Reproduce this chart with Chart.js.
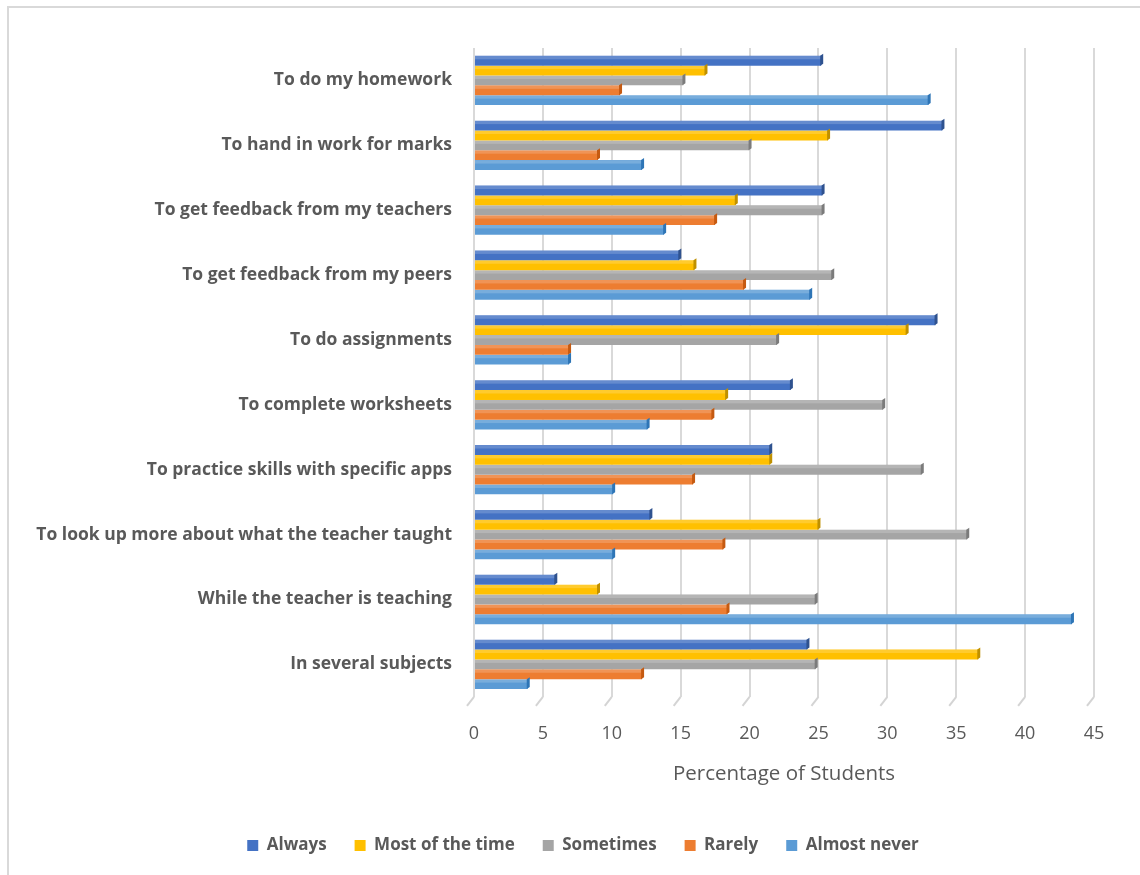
<!DOCTYPE html>
<html>
<head>
<meta charset="utf-8">
<script src="https://cdn.jsdelivr.net/npm/chart.js@4.4.1/dist/chart.umd.min.js"></script>
<style>
  html, body { margin: 0; padding: 0; background: #fff; }
  #wrap { position: relative; width: 1140px; height: 875px; }
  #frame { position: absolute; left: 7px; top: 6px; width: 1140px; height: 900px;
           border-top: 2px solid #d9d9d9; border-left: 2px solid #d9d9d9; box-sizing: border-box; }
  canvas { position: absolute; left: 0; top: 0; }
</style>
</head>
<body>
<div id="wrap">
  <div id="frame"></div>
  <canvas id="chart" width="1140" height="875"></canvas>
</div>
<script>
// categories, top to bottom
let categories = [
	'To do my homework',
	'To hand in work for marks',
	'To get feedback from my teachers',
	'To get feedback from my peers',
	'To do assignments',
	'To complete worksheets',
	'To practice skills with specific apps',
	'To look up more about what the teacher taught',
	'While the teacher is teaching',
	'In several subjects',
]

// percentage of students per answer
let always      = [25.2, 34.0, 25.3, 14.9, 33.5, 23.0, 21.5, 12.8,  5.9, 24.2]
let mostOfTime  = [16.8, 25.7, 19.0, 16.0, 31.4, 18.3, 21.5, 25.0,  9.0, 36.6]
let sometimes   = [15.2, 20.0, 25.3, 26.0, 22.0, 29.7, 32.5, 35.8, 24.8, 24.8]
let rarely      = [10.6,  9.0, 17.5, 19.6,  6.9, 17.3, 15.9, 18.1, 18.4, 12.2]
let almostNever = [33.0, 12.2, 13.8, 24.4,  6.9, 12.6, 10.1, 10.1, 43.4,  3.9]

let xTicks = [0, 5, 10, 15, 20, 25, 30, 35, 40, 45]

let series = [
	{ label: 'Always',           data: always,      color: '#4472C4', edge: '#2f528f' },
	{ label: 'Most of the time', data: mostOfTime,  color: '#FFC000', edge: '#bf9000' },
	{ label: 'Sometimes',        data: sometimes,   color: '#A5A5A5', edge: '#7b7b7b' },
	{ label: 'Rarely',           data: rarely,      color: '#ED7D31', edge: '#c55a11' },
	{ label: 'Almost never',     data: almostNever, color: '#5B9BD5', edge: '#2e75b6' },
]

// fake 3d: darker end caps on bars and little feet under grid lines
const depth3d = {
	id: 'depth3d',
	afterLayout(chart) {
		// legend sits a bit right of centre in the original
		chart.legend.left += 36
		chart.legend.right += 36
	},
	afterDatasetsDraw(chart) {
		const ctx = chart.ctx
		chart.data.datasets.forEach((ds, i) => {
			chart.getDatasetMeta(i).data.forEach(bar => {
				const h = bar.height
				ctx.save()
				ctx.fillStyle = ds.edgeColor
				ctx.beginPath()
				ctx.moveTo(bar.x - 1, bar.y - h / 2)
				ctx.lineTo(bar.x + 2, bar.y - h / 2 - 2)
				ctx.lineTo(bar.x + 2, bar.y + h / 2 - 2)
				ctx.lineTo(bar.x - 1, bar.y + h / 2)
				ctx.closePath()
				ctx.fill()
				ctx.fillStyle = 'rgba(255,255,255,0.18)'
				ctx.fillRect(bar.base, bar.y - h / 2, bar.x - bar.base - 1, h * 0.35)
				ctx.restore()
			})
		})
	},
	afterDraw(chart) {
		const ctx = chart.ctx
		const sx = chart.scales.x
		const bottom = chart.chartArea.bottom
		ctx.save()
		ctx.strokeStyle = '#d4d4d4'
		ctx.lineWidth = 2
		sx.ticks.forEach((t, i) => {
			const px = sx.getPixelForTick(i)
			ctx.beginPath()
			ctx.moveTo(px, bottom)
			ctx.lineTo(px - 7, bottom + 9)
			ctx.stroke()
		})
		ctx.restore()
	}
}

let data = {
	labels: categories,
	datasets: series.map(s => ({
		label: s.label,
		data: s.data,
		backgroundColor: s.color,
		edgeColor: s.edge,
		borderWidth: 0,
		barPercentage: 1.0,
		categoryPercentage: 0.76,
	}))
}

new Chart(document.getElementById('chart'), {
	type: 'bar',
	data,
	options: {
		indexAxis: 'y',
		responsive: false,
		animation: false,
		layout: { padding: { left: 0, right: 46, top: 48, bottom: 11 } },
		plugins: {
			tooltip: { enabled: false },
			legend: {
				position: 'bottom',
				labels: {
					boxWidth: 11,
					boxHeight: 11,
					padding: 28,
					color: '#595959',
					font: { family: 'Open Sans', size: 17, weight: 'bold' },
				}
			}
		},
		scales: {
			x: {
				min: 0,
				max: 45,
				afterBuildTicks(scale) { scale.ticks = xTicks.map(v => ({ value: v })) },
				grid: { color: '#d9d9d9', lineWidth: 2, drawTicks: false },
				border: { display: false },
				ticks: {
					padding: 26,
					color: '#595959',
					font: { family: 'Open Sans', size: 18 },
				},
				title: {
					display: true,
					text: 'Percentage of Students',
					color: '#595959',
					padding: { top: -9, bottom: 23 },
					font: { family: 'Open Sans', size: 20.5 },
				}
			},
			y: {
				afterFit(scale) { scale.width = 474 },
				grid: { display: false, drawTicks: false },
				border: { display: false },
				ticks: {
					padding: 22,
					color: '#595959',
					font: { family: 'Open Sans', size: 17.5, weight: 'bold' },
				}
			}
		}
	},
	plugins: [depth3d]
})
</script>
</body>
</html>
